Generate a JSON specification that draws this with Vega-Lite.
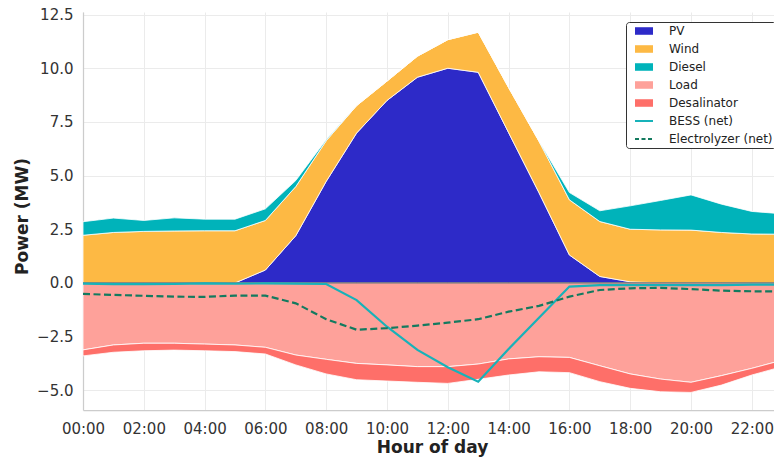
{
  "$schema": "https://vega.github.io/schema/vega-lite/v6.json",
  "width": 691,
  "height": 398,
  "autosize": {"type": "none"},
  "padding": {"left": 83, "top": 12, "right": 0, "bottom": 53},
  "background": "white",
  "config": {
    "view": {"stroke": null},
    "font": "DejaVu Sans",
    "axis": {
      "labelFont": "DejaVu Sans",
      "labelFontSize": 15,
      "labelColor": "#333333",
      "titleFont": "DejaVu Sans",
      "titleFontSize": 17,
      "titleFontWeight": "bold",
      "titleColor": "#222222",
      "gridColor": "#ebebeb",
      "gridWidth": 1,
      "domainColor": "#cccccc",
      "domainWidth": 1.25,
      "ticks": false,
      "labelOverlap": false,
      "labelFlush": false
    }
  },
  "datasets": {
    "hourly": [
      {"hour": 0, "PV": 0, "Wind": 2.22, "Diesel": 0.63, "Load": -3.12, "Desalinator": -0.28, "BESS": -0.03, "Electrolyzer": -0.51},
      {"hour": 1, "PV": 0, "Wind": 2.35, "Diesel": 0.67, "Load": -2.89, "Desalinator": -0.34, "BESS": -0.06, "Electrolyzer": -0.56},
      {"hour": 2, "PV": 0, "Wind": 2.40, "Diesel": 0.51, "Load": -2.81, "Desalinator": -0.35, "BESS": -0.06, "Electrolyzer": -0.60},
      {"hour": 3, "PV": 0, "Wind": 2.42, "Diesel": 0.61, "Load": -2.81, "Desalinator": -0.32, "BESS": -0.05, "Electrolyzer": -0.64},
      {"hour": 4, "PV": 0, "Wind": 2.43, "Diesel": 0.54, "Load": -2.85, "Desalinator": -0.31, "BESS": -0.02, "Electrolyzer": -0.65},
      {"hour": 5, "PV": 0, "Wind": 2.43, "Diesel": 0.54, "Load": -2.89, "Desalinator": -0.31, "BESS": -0.04, "Electrolyzer": -0.59},
      {"hour": 6, "PV": 0.6, "Wind": 2.31, "Diesel": 0.54, "Load": -3.00, "Desalinator": -0.31, "BESS": -0.02, "Electrolyzer": -0.59},
      {"hour": 7, "PV": 2.2, "Wind": 2.29, "Diesel": 0.28, "Load": -3.36, "Desalinator": -0.46, "BESS": -0.03, "Electrolyzer": -0.95},
      {"hour": 8, "PV": 4.73, "Wind": 1.89, "Diesel": 0.05, "Load": -3.56, "Desalinator": -0.68, "BESS": -0.05, "Electrolyzer": -1.69},
      {"hour": 9, "PV": 6.98, "Wind": 1.28, "Diesel": 0, "Load": -3.75, "Desalinator": -0.76, "BESS": -0.8, "Electrolyzer": -2.18},
      {"hour": 10, "PV": 8.5, "Wind": 0.9, "Diesel": 0, "Load": -3.82, "Desalinator": -0.75, "BESS": -2.04, "Electrolyzer": -2.11},
      {"hour": 11, "PV": 9.58, "Wind": 0.98, "Diesel": 0, "Load": -3.9, "Desalinator": -0.73, "BESS": -3.12, "Electrolyzer": -1.99},
      {"hour": 12, "PV": 10.0, "Wind": 1.33, "Diesel": 0, "Load": -3.9, "Desalinator": -0.78, "BESS": -3.93, "Electrolyzer": -1.85},
      {"hour": 13, "PV": 9.81, "Wind": 1.87, "Diesel": 0, "Load": -3.78, "Desalinator": -0.71, "BESS": -4.6, "Electrolyzer": -1.69},
      {"hour": 14, "PV": 7.0, "Wind": 2.1, "Diesel": 0, "Load": -3.54, "Desalinator": -0.75, "BESS": -3.08, "Electrolyzer": -1.34},
      {"hour": 15, "PV": 4.2, "Wind": 2.4, "Diesel": 0, "Load": -3.44, "Desalinator": -0.70, "BESS": -1.62, "Electrolyzer": -1.07},
      {"hour": 16, "PV": 1.3, "Wind": 2.57, "Diesel": 0.34, "Load": -3.47, "Desalinator": -0.71, "BESS": -0.17, "Electrolyzer": -0.64},
      {"hour": 17, "PV": 0.3, "Wind": 2.56, "Diesel": 0.5, "Load": -3.86, "Desalinator": -0.74, "BESS": -0.1, "Electrolyzer": -0.33},
      {"hour": 18, "PV": 0.05, "Wind": 2.45, "Diesel": 1.09, "Load": -4.24, "Desalinator": -0.67, "BESS": -0.1, "Electrolyzer": -0.25},
      {"hour": 19, "PV": 0, "Wind": 2.47, "Diesel": 1.37, "Load": -4.48, "Desalinator": -0.59, "BESS": -0.1, "Electrolyzer": -0.23},
      {"hour": 20, "PV": 0, "Wind": 2.46, "Diesel": 1.64, "Load": -4.63, "Desalinator": -0.47, "BESS": -0.1, "Electrolyzer": -0.29},
      {"hour": 21, "PV": 0, "Wind": 2.35, "Diesel": 1.32, "Load": -4.32, "Desalinator": -0.44, "BESS": -0.1, "Electrolyzer": -0.36},
      {"hour": 22, "PV": 0, "Wind": 2.28, "Diesel": 1.05, "Load": -3.98, "Desalinator": -0.31, "BESS": -0.08, "Electrolyzer": -0.39},
      {"hour": 23, "PV": 0, "Wind": 2.27, "Diesel": 0.95, "Load": -3.6, "Desalinator": -0.3, "BESS": -0.08, "Electrolyzer": -0.40}
    ],
    "order": [
      {"key": "PV", "ord": 1},
      {"key": "Wind", "ord": 2},
      {"key": "Diesel", "ord": 3},
      {"key": "Load", "ord": 4},
      {"key": "Desalinator", "ord": 5}
    ]
  },
  "layer": [
    {
      "data": {"name": "hourly"},
      "transform": [
        {"fold": ["PV", "Wind", "Diesel", "Load", "Desalinator"], "as": ["key", "value"]},
        {"lookup": "key", "from": {"data": {"name": "order"}, "key": "key", "fields": ["ord"]}}
      ],
      "mark": {"type": "area", "stroke": "white", "strokeWidth": 0.8, "opacity": 1, "clip": true},
      "encoding": {
        "x": {
          "field": "hour", "type": "quantitative", "title": "Hour of day",
          "scale": {"domain": [0, 22.73], "nice": false, "zero": false},
          "axis": {
            "values": [0, 2, 4, 6, 8, 10, 12, 14, 16, 18, 20, 22],
            "labelExpr": "(datum.value < 10 ? '0' : '') + datum.value + ':00'",
            "labelPadding": 11,
            "titleX": 349, "titleY": 42, "titleBaseline": "alphabetic",
            "titleAlign": "center"
          }
        },
        "y": {
          "field": "value", "type": "quantitative", "stack": "zero", "title": "Power (MW)",
          "scale": {"domain": [-5.92, 12.62], "nice": false, "zero": false},
          "axis": {
            "values": [-5, -2.5, 0, 2.5, 5, 7.5, 10, 12.5],
            "format": ".1f",
            "labelPadding": 10,
            "titleX": -56, "titleY": 204, "titleBaseline": "alphabetic", "titleAngle": 270, "titleAlign": "center"
          }
        },
        "color": {
          "field": "key", "type": "nominal",
          "scale": {
            "domain": ["PV", "Wind", "Diesel", "Load", "Desalinator", "BESS", "Electrolyzer"],
            "range": ["#2d2ac8", "#fdb944", "#00b3ba", "#fea19a", "#fe6f69", "#17b2b9", "#137a5f"]
          },
          "legend": {
            "title": null,
            "orient": "none",
            "legendX": 543,
            "legendY": 10,
            "labelFont": "DejaVu Sans",
            "labelFontSize": 12,
            "labelColor": "#222222",
            "labelExpr": "datum.label == 'BESS' ? 'BESS (net)' : (datum.label == 'Electrolyzer' ? 'Electrolyzer (net)' : datum.label)",
            "symbolSize": 324,
            "symbolType": {"expr": "(datum.value == 'BESS' || datum.value == 'Electrolyzer') ? 'M-1,0H1' : 'M-1,-0.42H1V0.42H-1Z'"},
            "symbolStrokeColor": {"expr": "scale('color', datum.value)"},
            "symbolStrokeWidth": {"expr": "(datum.value == 'BESS' || datum.value == 'Electrolyzer') ? 2 : 0"},
            "symbolDash": {"expr": "datum.value == 'Electrolyzer' ? [4, 2.5] : [1, 0]"},
            "symbolOpacity": 1,
            "rowPadding": 6,
            "padding": 3,
            "symbolOffset": 9,
            "labelOffset": 19,
            "strokeColor": "#333333",
            "fillColor": "white",
            "cornerRadius": 3
          }
        },
        "order": {"field": "ord", "type": "quantitative"}
      }
    },
    {
      "data": {"values": [{"level": 0}]},
      "mark": {"type": "rule", "color": "#444444", "strokeWidth": 1},
      "encoding": {
        "y": {"field": "level", "type": "quantitative", "title": "Power (MW)", "scale": {"domain": [-5.92, 12.62], "nice": false, "zero": false}}
      }
    },
    {
      "data": {"name": "hourly"},
      "transform": [
        {"fold": ["BESS"], "as": ["key", "value"]}
      ],
      "mark": {"type": "line", "strokeWidth": 2.2, "clip": true},
      "encoding": {
        "x": {"field": "hour", "type": "quantitative", "title": "Hour of day", "scale": {"domain": [0, 22.73], "nice": false, "zero": false}},
        "y": {"field": "value", "type": "quantitative", "title": "Power (MW)", "scale": {"domain": [-5.92, 12.62], "nice": false, "zero": false}},
        "color": {"field": "key", "type": "nominal", "legend": null}
      }
    },
    {
      "data": {"name": "hourly"},
      "transform": [
        {"fold": ["Electrolyzer"], "as": ["key", "value"]}
      ],
      "mark": {"type": "line", "strokeWidth": 2.2, "strokeDash": [7, 3.5], "clip": true},
      "encoding": {
        "x": {"field": "hour", "type": "quantitative", "title": "Hour of day", "scale": {"domain": [0, 22.73], "nice": false, "zero": false}},
        "y": {"field": "value", "type": "quantitative", "title": "Power (MW)", "scale": {"domain": [-5.92, 12.62], "nice": false, "zero": false}},
        "color": {"field": "key", "type": "nominal", "legend": null}
      }
    }
  ]
}
